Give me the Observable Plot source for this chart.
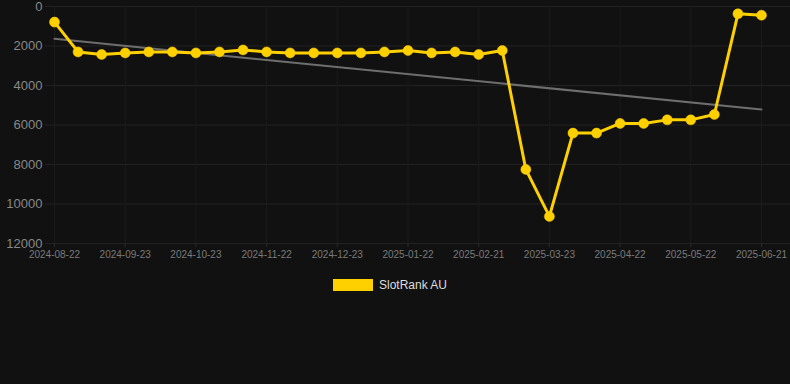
<!DOCTYPE html>
<html><head><meta charset="utf-8">
<script src="https://cdn.jsdelivr.net/npm/d3@7"></script>
<script src="https://cdn.jsdelivr.net/npm/@observablehq/plot@0.6"></script>
<style>
html,body{margin:0;padding:0;background:#111111;}
body{width:790px;height:384px;overflow:hidden;font-family:"Liberation Sans",Arial,Helvetica,sans-serif;}
#legend{position:absolute;left:333px;top:278px;display:flex;align-items:center;font-size:12px;color:#dddddd;}
#legend .sw{width:40px;height:12px;background:#FFD000;margin-right:6px;}
</style></head>
<body>
<div id="chart"></div>
<div id="legend"><div class="sw"></div><span>SlotRank AU</span></div>
<script>
// Data points (approx. every ~10 days)
const dates = ["2024-08-22","2024-09-01","2024-09-11","2024-09-21","2024-10-01","2024-10-12","2024-10-22","2024-11-01","2024-11-11","2024-11-21","2024-12-01","2024-12-11","2024-12-21","2024-12-31","2025-01-10","2025-01-21","2025-01-31","2025-02-10","2025-02-20","2025-03-02","2025-03-12","2025-03-22","2025-04-01","2025-04-11","2025-04-21","2025-05-02","2025-05-12","2025-05-22","2025-06-01","2025-06-11","2025-06-21"];
const ranks = [790,2300,2430,2350,2300,2300,2350,2300,2200,2300,2350,2350,2350,2350,2300,2230,2350,2300,2430,2230,8250,10630,6410,6410,5920,5920,5740,5740,5470,370,440];
const xTickLabels = ["2024-08-22","2024-09-23","2024-10-23","2024-11-22","2024-12-23","2025-01-22","2025-02-21","2025-03-23","2025-04-22","2025-05-22","2025-06-21"];
const yTicks = [0,2000,4000,6000,8000,10000,12000];
const seriesName = "SlotRank AU";

const data = dates.map((d, i) => ({idx: i, date: d, rank: ranks[i]}));
const xTicks = xTickLabels.map((_, i) => i * 3);

const chart = Plot.plot({
  width: 790,
  height: 270,
  marginTop: 6,
  marginBottom: 27,
  marginLeft: 45,
  marginRight: 0,
  insetLeft: 9,
  insetRight: 29,
  style: {background: "#111111", fontFamily: "'Liberation Sans', Arial, sans-serif"},
  x: {type: "linear", domain: [0, 30]},
  y: {domain: [0, 12000], reverse: true},
  marks: [
    Plot.gridY(yTicks, {stroke: "#222222", strokeOpacity: 1}),
    Plot.gridX(xTicks, {stroke: "#1b1b1b", strokeOpacity: 1}),
    Plot.axisY(yTicks, {tickSize: 0, tickPadding: 3, fontSize: 13, fill: "#888888", label: null, tickFormat: d => String(d)}),
    Plot.axisX(xTicks, {tickSize: 4, stroke: "#2a2a2a", tickPadding: 3, fontSize: 10, fill: "#7a7a7a", label: null, tickFormat: (d) => xTickLabels[d / 3]}),
    Plot.linearRegressionY(data, {x: "idx", y: "rank", ci: 0, stroke: "#6e6e6e", strokeWidth: 2}),
    Plot.line(data, {x: "idx", y: "rank", stroke: "#FFD000", strokeWidth: 3}),
    Plot.dot(data, {x: "idx", y: "rank", r: 5, fill: "#FFD000", stroke: "#FFD000", strokeWidth: 0.5})
  ]
});
document.getElementById("chart").appendChild(chart);
document.querySelector("#legend span").textContent = seriesName;
</script>
</body></html>
